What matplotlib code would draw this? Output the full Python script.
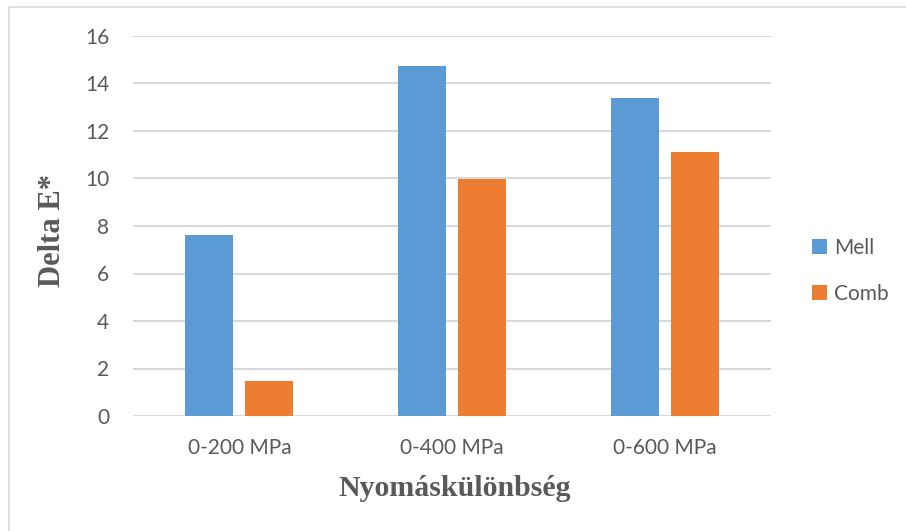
import matplotlib.pyplot as plt
import matplotlib.patches as mpatches
import numpy as np

# Delta E* values per pressure difference range
categories = ['0-200 MPa', '0-400 MPa', '0-600 MPa']
mell = [7.62, 14.74, 13.39]
comb = [1.47, 9.98, 11.12]

blue = '#5B9BD5'
orange = '#ED7D31'
grey_text = '#595959'
grid_col = '#D9D9D9'

fig = plt.figure(figsize=(9.06, 5.31), dpi=100)
ax = fig.add_axes([133 / 906, 1 - 416 / 531, (771 - 133) / 906, (416 - 36) / 531])

x = np.arange(len(categories))
w = 0.226
off = 0.141
ax.bar(x - off, mell, w, color=blue, label='Mell', zorder=3)
ax.bar(x + off, comb, w, color=orange, label='Comb', zorder=3)

ax.set_xlim(-0.5, 2.5)
ax.set_ylim(0, 16)
ax.set_yticks(range(0, 17, 2))
ax.set_xticks(x)
ax.set_xticklabels(categories)

ax.grid(axis='y', color=grid_col, linewidth=1.5, zorder=0)
for s in ax.spines.values():
    s.set_visible(False)
ax.tick_params(length=0, colors=grey_text, labelsize=15)
ax.tick_params(axis='y', pad=17)
ax.tick_params(axis='x', pad=16)
for lbl in ax.get_xticklabels() + ax.get_yticklabels():
    lbl.set_fontfamily('Lato')

# axis titles
fig.text(52 / 906, 1 - 230 / 531, 'Delta E*', rotation=90, ha='center', va='center',
         family='Liberation Serif', weight='bold', fontsize=22, color=grey_text)
fig.text(455 / 906, 1 - 489 / 531, 'Nyomáskülönbség', ha='center', va='center',
         family='Liberation Serif', weight='bold', fontsize=21.5, color=grey_text)

leg = fig.legend(loc='center left', bbox_to_anchor=(812 / 906, 1 - 271 / 531),
                 frameon=False, handlelength=0.7, handleheight=0.7, handletextpad=0.35,
                 labelspacing=1.25, borderpad=0, borderaxespad=0,
                 prop={'family': 'Lato', 'size': 15})
for t in leg.get_texts():
    t.set_color(grey_text)

# chart area outline (runs off the right and bottom)
fig.add_artist(mpatches.Rectangle((8.5 / 906, -0.1), 2, 1.1 - 6.5 / 531,
                                  transform=fig.transFigure, fill=False,
                                  edgecolor=grid_col, linewidth=1.2))

fig.savefig('out.png', dpi=100)
